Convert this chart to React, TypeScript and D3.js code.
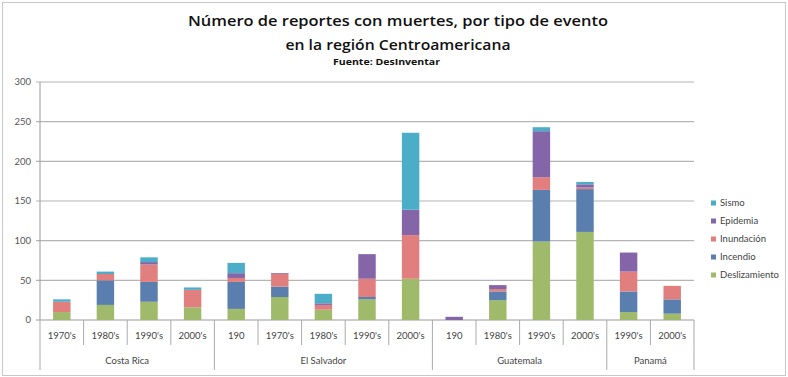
import React, { useEffect, useRef } from "react";
import * as d3 from "d3";

// Decade labels for each bar, in display order
const periods = ["1970's", "1980's", "1990's", "2000's", "190", "1970's", "1980's", "1990's", "2000's", "190", "1980's", "1990's", "2000's", "1990's", "2000's"];
// Country for each bar
const countries = ["Costa Rica", "Costa Rica", "Costa Rica", "Costa Rica", "El Salvador", "El Salvador", "El Salvador", "El Salvador", "El Salvador", "Guatemala", "Guatemala", "Guatemala", "Guatemala", "Panamá", "Panamá"];

// Report counts per event type
const deslizamiento = [10, 19, 23, 16, 14, 29, 13, 26, 52, 0, 25, 99, 111, 10, 8];
const incendio = [0, 31, 25, 0, 34, 13, 0, 3, 0, 0, 11, 65, 54, 26, 18];
const inundacion = [13, 8, 22, 22, 5, 16, 6, 23, 55, 0, 3, 16, 2, 25, 17];
const epidemia = [0, 0, 3, 0, 6, 1, 2, 31, 32, 4, 5, 58, 4, 24, 0];
const sismo = [3, 3, 6, 3, 13, 0, 12, 0, 97, 0, 0, 5, 3, 0, 0];

const seriesNames = ["Deslizamiento", "Incendio", "Inundación", "Epidemia", "Sismo"];
const seriesValues = [deslizamiento, incendio, inundacion, epidemia, sismo];
const seriesColors = ["#9fba6a", "#5a7fae", "#e07f7d", "#8465a8", "#4cadc8"];

const yTicks = [0, 50, 100, 150, 200, 250, 300];

const W = 788;
const H = 377;

export default function App() {
  const ref = useRef<SVGSVGElement>(null);

  useEffect(() => {
    document.body.style.margin = "0";
    const svg = d3.select(ref.current);
    svg.selectAll("*").remove();

    const left = 40, right = 694, top = 82, bottom = 320;
    const idx = periods.map((_, i) => String(i));
    const x = d3.scaleBand<string>().domain(idx).range([left, right]).paddingInner(0.6).paddingOuter(0.3);
    const y = d3.scaleLinear().domain([0, 300]).range([bottom, top]);

    // chart border
    svg.append("rect").attr("x", 2.5).attr("y", 2.5).attr("width", W - 5).attr("height", H - 4)
      .attr("fill", "white").attr("stroke", "#c8c8c8");

    const font = "Lato, 'Open Sans', sans-serif";
    const titleFont = "'Open Sans', Lato, sans-serif";

    // title
    const t = svg.append("g").attr("text-anchor", "middle").attr("font-family", titleFont).attr("fill", "#111");
    t.append("text").attr("x", 398).attr("y", 26).attr("font-size", 15).attr("font-weight", 600)
      .attr("textLength", 420).attr("lengthAdjust", "spacingAndGlyphs")
      .text("Número de reportes con muertes, por tipo de evento");
    t.append("text").attr("x", 398).attr("y", 50).attr("font-size", 15).attr("font-weight", 600)
      .attr("textLength", 225).attr("lengthAdjust", "spacingAndGlyphs")
      .text("en la región Centroamericana");
    t.append("text").attr("x", 386.5).attr("y", 65).attr("font-size", 9).attr("font-weight", 700)
      .attr("textLength", 107).attr("lengthAdjust", "spacingAndGlyphs")
      .text("Fuente: DesInventar");

    // gridlines and y labels
    const g = svg.append("g");
    yTicks.forEach((v) => {
      g.append("line").attr("x1", left - 4).attr("x2", right).attr("y1", y(v)).attr("y2", y(v))
        .attr("stroke", v === 0 ? "#999" : "#b5b5b5").attr("stroke-width", 1.2);
      g.append("text").attr("x", 31).attr("y", y(v)).attr("dy", "0.35em").attr("text-anchor", "end")
        .attr("font-family", font).attr("font-size", 9.5).attr("fill", "#555").text(String(v));
    });
    g.append("line").attr("x1", left).attr("x2", left).attr("y1", top).attr("y2", bottom).attr("stroke", "#999");

    // stacked bars
    const table = periods.map((_, i) => {
      const row: Record<string, number | string> = { key: String(i) };
      seriesNames.forEach((s, k) => (row[s] = seriesValues[k][i]));
      return row;
    });
    const stack = d3.stack<Record<string, number | string>>().keys(seriesNames)
      .value((d, k) => d[k] as number)(table);
    stack.forEach((layer, k) => {
      svg.append("g").attr("fill", seriesColors[k]).selectAll("rect").data(layer).join("rect")
        .attr("x", (d) => x(d.data.key as string)!)
        .attr("width", x.bandwidth())
        .attr("y", (d) => y(d[1]))
        .attr("height", (d) => y(d[0]) - y(d[1]));
    });

    // category axis
    const step = x.step();
    const start = x(idx[0])! - x.paddingOuter() * step;
    const ax = svg.append("g").attr("font-family", font).attr("font-size", 9.5).attr("fill", "#444");
    const boundaryX = (i: number) => start + i * step;
    for (let i = 0; i <= periods.length; i++) {
      const isGroup = i === 0 || i === periods.length || countries[i] !== countries[i - 1];
      ax.append("line").attr("x1", boundaryX(i)).attr("x2", boundaryX(i)).attr("y1", bottom)
        .attr("y2", isGroup ? 370 : 345).attr("stroke", "#aaa");
    }
    periods.forEach((p, i) => {
      ax.append("text").attr("x", x(String(i))! + x.bandwidth() / 2).attr("y", 336).attr("dy", "0.35em")
        .attr("text-anchor", "middle").text(p);
    });
    const groups = d3.groups(countries.map((c, i) => ({ c, i })), (d) => d.c);
    groups.forEach(([name, items]) => {
      const a = boundaryX(items[0].i);
      const b = boundaryX(items[items.length - 1].i + 1);
      ax.append("text").attr("x", (a + b) / 2).attr("y", 361).attr("dy", "0.35em")
        .attr("text-anchor", "middle").text(name);
    });

    // legend
    const leg = svg.append("g").attr("font-family", font).attr("font-size", 9.5).attr("fill", "#444");
    const legOrder = [4, 3, 2, 1, 0];
    const legY = [203, 221, 239, 257, 275];
    legOrder.forEach((k, j) => {
      leg.append("rect").attr("x", 711).attr("y", legY[j] - 2.5).attr("width", 5).attr("height", 5).attr("fill", seriesColors[k]);
      leg.append("text").attr("x", 720).attr("y", legY[j]).attr("dy", "0.35em").text(seriesNames[k]);
    });
  }, []);

  return <svg ref={ref} width={W} height={H} style={{ display: "block" }} />;
}
